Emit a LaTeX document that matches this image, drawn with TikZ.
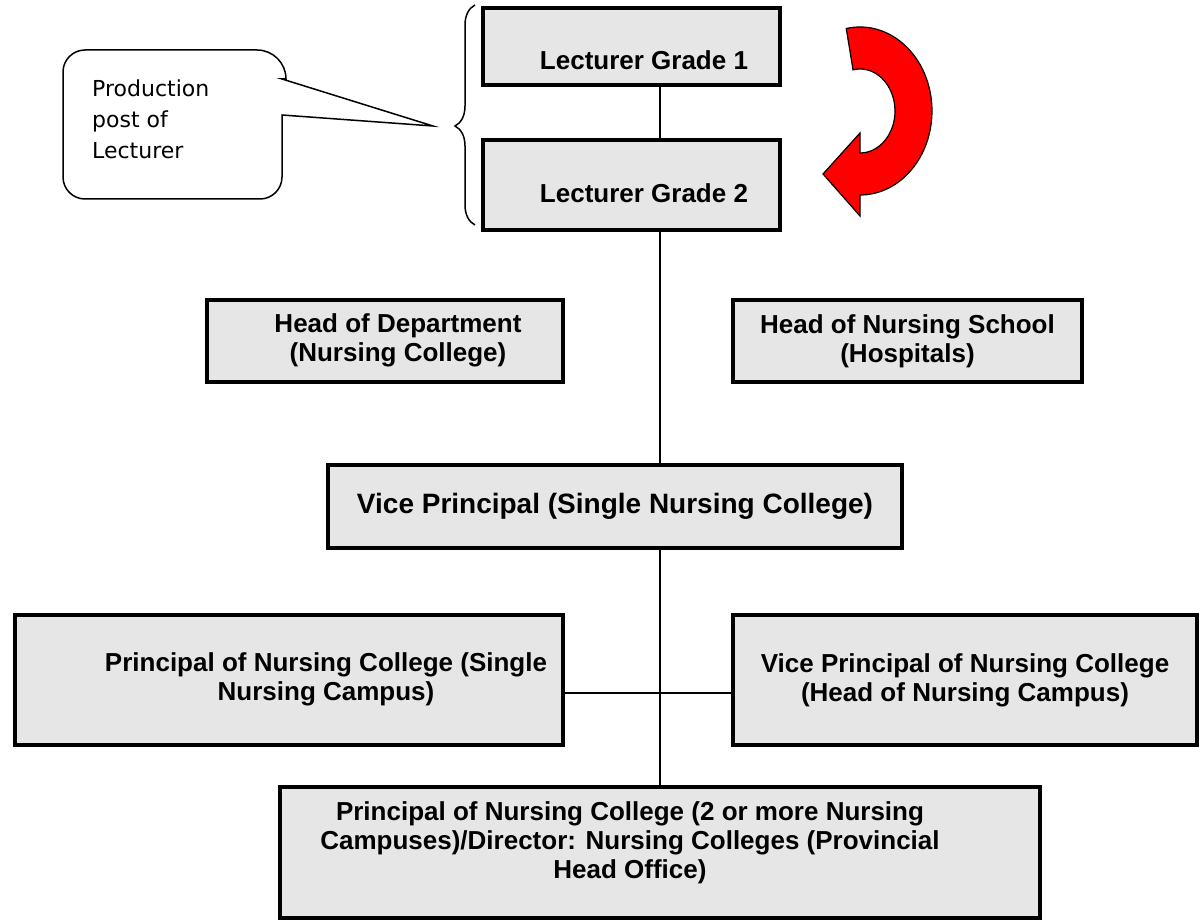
\documentclass[tikz,border=0pt]{standalone}
\usepackage{fontspec}
\setmainfont{Liberation Sans}
\newfontfamily\notefont{DejaVu Sans}
\usetikzlibrary{decorations.pathreplacing}
\definecolor{postgray}{RGB}{230,230,230}
\definecolor{arrowred}{RGB}{255,0,0}

\tikzset{
  post/.style={draw, line width=3.5pt, fill=postgray, align=center, inner sep=0pt,
    font=\bfseries\fontsize{26}{29}\selectfont},
  link/.style={line width=1.8pt},
}

\begin{document}
\begin{tikzpicture}[x=1pt, y=1pt]
\useasboundingbox (0,0) rectangle (1199,-920);

% Paramètres
\coordinate (axe) at (660,0);     % tronc vertical
\coordinate (barre) at (660,-693); % liaison horizontale
\coordinate (rot) at (860,-111);  % centre de la flèche

% Postes
\node[post, minimum width=297, minimum height=77] (lg1) at (631.5,-46.5)
  {\hspace{25pt}\raisebox{-23pt}[0pt][0pt]{Lecturer Grade 1}};
\node[post, minimum width=297, minimum height=90] (lg2) at (631.5,-185)
  {\hspace{25pt}\raisebox{-17.5pt}[0pt][0pt]{Lecturer Grade 2}};
\node[post, minimum width=356, minimum height=82] (hod) at (385,-341)
  {\hspace{26pt}\begin{tabular}{@{}c@{}}Head of Department\\(Nursing College)\end{tabular}};
\node[post, minimum width=349, minimum height=82] (hons) at (907.5,-341)
  {Head of Nursing School\\(Hospitals)};
\node[post, minimum width=574, minimum height=83, font=\bfseries\fontsize{28}{31}\selectfont] (vp) at (615,-506.5)
  {Vice Principal (Single Nursing College)};
\node[post, minimum width=548, minimum height=130] (pnc) at (289,-680)
  {\hspace{74pt}\begin{tabular}{@{}c@{}}Principal of Nursing College (Single\\Nursing Campus)\end{tabular}};
\node[post, minimum width=464, minimum height=130] (vpnc) at (965,-680)
  {Vice Principal of Nursing College\\(Head of Nursing Campus)};
\node[post, minimum width=760, minimum height=131] (dir) at (660,-852.5)
  {\raisebox{3pt}[0pt][0pt]{\begin{tabular}{@{}c@{}}Principal of Nursing College (2 or more Nursing\\Campuses)/Director: Nursing Colleges (Provincial\\Head Office)\end{tabular}}\hspace{60pt}};

% Liaisons
\draw[link] (lg1.south -| axe) -- (lg2.north -| axe);
\draw[link] (lg2.south -| axe) -- (vp.north -| axe);
\draw[link] (vp.south -| axe) -- (dir.north -| axe);
\draw[link] (pnc.east |- barre) -- (vpnc.west |- barre);

% Accolade et bulle
\coordinate (brtip) at (455,-125);
\coordinate (ptr) at (433,-126);
\draw[line width=1.5pt, decorate, decoration={brace, amplitude=20pt, aspect=0.45}]
  (475,-225) -- (475,-5);
\draw[line width=1.5pt] (282,-79) -- (ptr) -- (282,-115) -- (282,-177)
  arc[start angle=0, end angle=-90, radius=22] -- (85,-199)
  arc[start angle=-90, end angle=-180, radius=22] -- (63,-72)
  arc[start angle=180, end angle=90, radius=22] -- (257,-50)
  arc[start angle=90, end angle=0, radius=29] -- cycle;
\node[font=\notefont\fontsize{22}{31}\selectfont, align=left, anchor=north west, inner sep=0pt]
  (note) at (92,-80) {Production\\post of\\Lecturer};

% Flèche rouge
\filldraw[fill=arrowred, line width=1.2pt] ([shift={(rot)}]101:72 and 84)
  arc[start angle=101, end angle=-90, x radius=72, y radius=84]
  -- (860,-216) -- (823,-174) -- (860,-133) -- (860,-153)
  arc[start angle=-90, end angle=101.5, x radius=35, y radius=42] -- cycle;
\end{tikzpicture}
\end{document}
